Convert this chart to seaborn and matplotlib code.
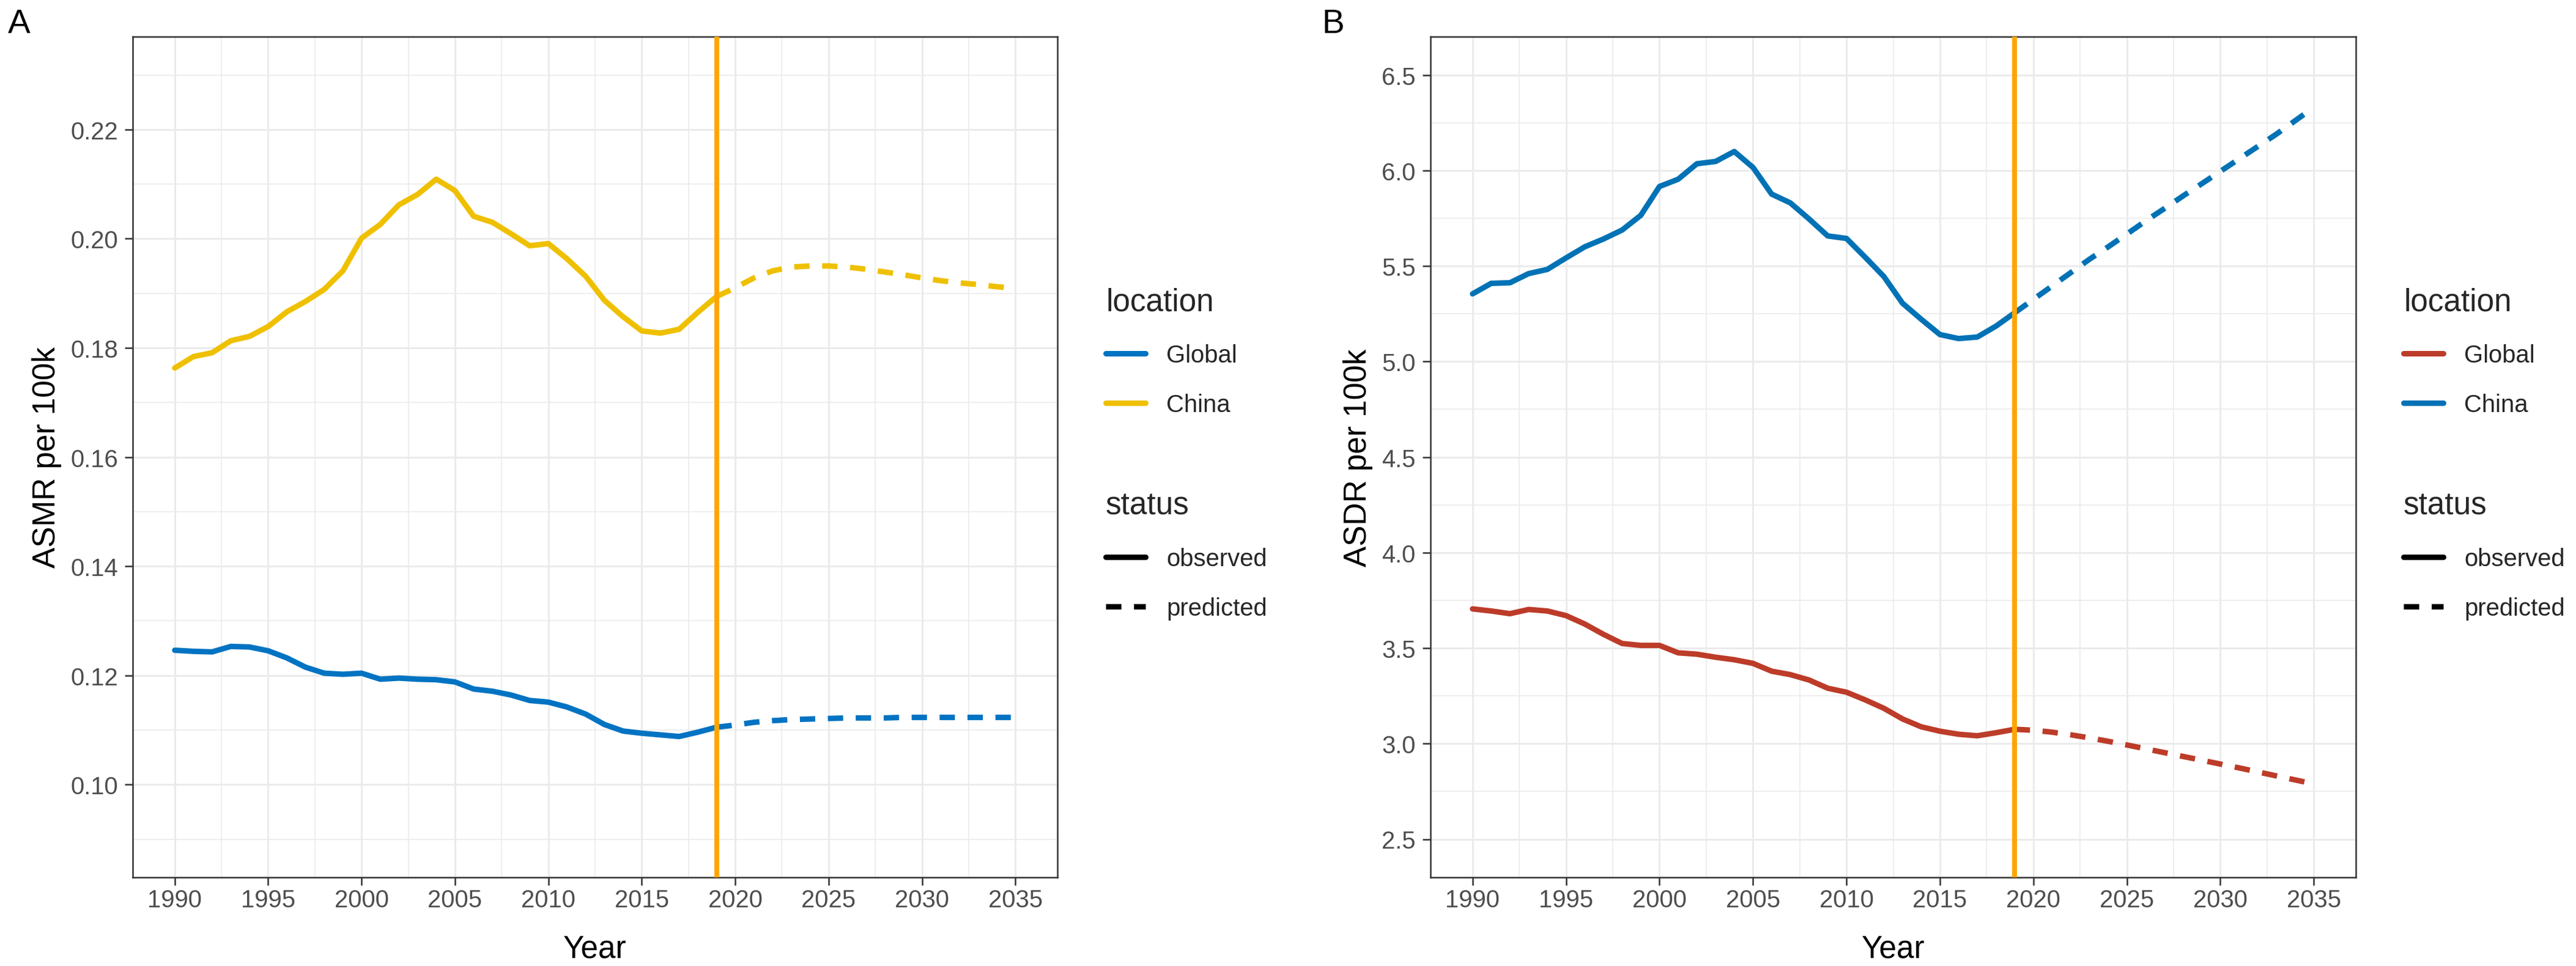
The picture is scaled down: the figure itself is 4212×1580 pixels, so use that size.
import numpy as np
import pandas as pd
import matplotlib
matplotlib.use("Agg")
import matplotlib.pyplot as plt
from matplotlib.lines import Line2D
from matplotlib.ticker import MultipleLocator, FormatStrFormatter
import seaborn as sns

# ---------------- data ----------------
years_obs = list(range(1990, 2020))
years_pred = list(range(2019, 2036))
cutoff_year = 2019
locations = ["Global", "China"]
statuses = ["observed", "predicted"]

asmr_global_obs = [0.1246, 0.1244, 0.1243, 0.1253, 0.1252, 0.1245, 0.1232, 0.1215, 0.1204, 0.1202,
                   0.1204, 0.1193, 0.1195, 0.1193, 0.1192, 0.1188, 0.1175, 0.1171, 0.1164, 0.1154,
                   0.1151, 0.1142, 0.1129, 0.1110, 0.1098, 0.1094, 0.1091, 0.1088, 0.1096, 0.1105]
asmr_global_pred = [0.1105, 0.1109, 0.1114, 0.1117, 0.1119, 0.1120, 0.1121, 0.1122, 0.1122,
                    0.1122, 0.1123, 0.1123, 0.1123, 0.1123, 0.1123, 0.1123, 0.1123]
asmr_china_obs = [0.1763, 0.1784, 0.1791, 0.1813, 0.1821, 0.1839, 0.1866, 0.1885, 0.1907, 0.1941,
                  0.2001, 0.2026, 0.2062, 0.2081, 0.2109, 0.2088, 0.2041, 0.2030, 0.2009, 0.1987,
                  0.1991, 0.1963, 0.1931, 0.1887, 0.1857, 0.1831, 0.1827, 0.1834, 0.1865, 0.1894]
asmr_china_pred = [0.1894, 0.1910, 0.1928, 0.1941, 0.1948, 0.1950, 0.1950, 0.1948, 0.1944,
                   0.1939, 0.1934, 0.1928, 0.1923, 0.1919, 0.1916, 0.1912, 0.1909]

asdr_global_obs = [3.705, 3.694, 3.680, 3.702, 3.694, 3.670, 3.626, 3.572, 3.524, 3.514,
                   3.514, 3.475, 3.468, 3.452, 3.439, 3.420, 3.379, 3.361, 3.333, 3.290,
                   3.269, 3.229, 3.185, 3.129, 3.088, 3.065, 3.049, 3.041, 3.057, 3.075]
asdr_global_pred = [3.075, 3.070, 3.060, 3.046, 3.030, 3.012, 2.993, 2.973, 2.953,
                    2.933, 2.913, 2.893, 2.873, 2.852, 2.831, 2.810, 2.789]
asdr_china_obs = [5.354, 5.409, 5.412, 5.460, 5.482, 5.542, 5.600, 5.641, 5.688, 5.765,
                  5.916, 5.954, 6.035, 6.047, 6.099, 6.016, 5.876, 5.830, 5.746, 5.657,
                  5.644, 5.546, 5.445, 5.305, 5.221, 5.141, 5.120, 5.128, 5.185, 5.255]
asdr_china_pred = [5.255, 5.325, 5.395, 5.465, 5.535, 5.600, 5.667, 5.735, 5.800,
                   5.866, 5.930, 5.995, 6.060, 6.125, 6.190, 6.260, 6.330]

# ---------------- style ----------------
sns.set_theme(style="white")
plt.rcParams["font.family"] = ["Liberation Sans", "DejaVu Sans"]

W, H = 4212, 1581
DPI = 300
LW = 2.15
DASH = (2.8, 2.3)
TICK_FS = 9.6
TITLE_FS = 12.3
GRID = "#EBEBEB"
DARK = "#333333"


def make_df(g_obs, g_pred, c_obs, c_pred):
    frames = []
    for loc, obs, pred in (("Global", g_obs, g_pred), ("China", c_obs, c_pred)):
        frames.append(pd.DataFrame({"year": years_obs, "value": obs,
                                    "location": loc, "status": "observed"}))
        frames.append(pd.DataFrame({"year": years_pred, "value": pred,
                                    "location": loc, "status": "predicted"}))
    return pd.concat(frames, ignore_index=True)


def px_x(p):
    return p / W


def px_y(p):
    return 1 - p / H


fig = plt.figure(figsize=(W / DPI, H / DPI), dpi=DPI)

panels = [
    dict(df=make_df(asmr_global_obs, asmr_global_pred, asmr_china_obs, asmr_china_pred),
         pal={"Global": "#0073C2", "China": "#EFC000"}, ylabel="ASMR per 100k",
         ylim=(0.083, 0.237), major=0.02, minor=0.01, fmt="%.2f",
         left=217, right=1729, label="A", label_x=13, leg_x=1808, ylab_right=101),
    dict(df=make_df(asdr_global_obs, asdr_global_pred, asdr_china_obs, asdr_china_pred),
         pal={"Global": "#BC3C29", "China": "#0072B5"}, ylabel="ASDR per 100k",
         ylim=(2.3, 6.7), major=0.5, minor=0.25, fmt="%.1f",
         left=2339, right=3852, label="B", label_x=2162, leg_x=3930, ylab_right=2245),
]

top_px, bottom_px = 61, 1436

for p in panels:
    ax = fig.add_axes([px_x(p["left"]), px_y(bottom_px),
                       (p["right"] - p["left"]) / W, (bottom_px - top_px) / H])
    sns.lineplot(data=p["df"], x="year", y="value", hue="location", style="status",
                 hue_order=locations, style_order=statuses, palette=p["pal"],
                 dashes={"observed": "", "predicted": DASH}, linewidth=LW,
                 errorbar=None, legend=False, ax=ax)
    ax.axvline(cutoff_year, color="#FFA500", lw=1.9, zorder=3)

    ax.set_xlim(1987.75, 2037.25)
    ax.set_ylim(*p["ylim"])
    ax.xaxis.set_major_locator(MultipleLocator(5))
    ax.xaxis.set_minor_locator(MultipleLocator(2.5))
    ax.yaxis.set_major_locator(MultipleLocator(p["major"]))
    ax.yaxis.set_minor_locator(MultipleLocator(p["minor"]))
    ax.yaxis.set_major_formatter(FormatStrFormatter(p["fmt"]))

    ax.set_axisbelow(True)
    ax.grid(which="major", color=GRID, lw=0.7)
    ax.grid(which="minor", color=GRID, lw=0.4)
    for s in ax.spines.values():
        s.set_color(DARK)
        s.set_linewidth(0.6)
    ax.tick_params(axis="both", which="major", length=3.2, width=0.6, color=DARK,
                   labelsize=TICK_FS, labelcolor="#4D4D4D")
    ax.tick_params(axis="x", which="major", pad=1.2)
    ax.tick_params(axis="y", which="major", pad=2.6)
    ax.tick_params(which="minor", length=0)
    ax.tick_params(left=True, bottom=True)

    ax.set_xlabel("Year", fontsize=TITLE_FS, color="black")
    ax.set_ylabel(p["ylabel"], fontsize=TITLE_FS, color="black")
    ax.xaxis.label.set_va("baseline")
    ax.xaxis.set_label_coords(0.5, -(1567 - bottom_px) / (bottom_px - top_px))
    ax.yaxis.set_label_coords((p["ylab_right"] - p["left"]) / (p["right"] - p["left"]), 0.5)

    fig.text(px_x(p["label_x"]), px_y(54), p["label"], fontsize=13.2, color="black",
             ha="left", va="baseline")

    # legends (ggplot-like)
    loc_handles = [Line2D([], [], color=p["pal"][l], lw=LW) for l in locations]
    st_handles = [Line2D([], [], color="black", lw=LW),
                  Line2D([], [], color="black", lw=LW, dashes=DASH)]
    common = dict(loc="upper left", frameon=False, borderpad=0, borderaxespad=0,
                  handlelength=1.63, handletextpad=0.85, labelspacing=1.07,
                  fontsize=TICK_FS, title_fontsize=TITLE_FS, alignment="left",
                  bbox_transform=fig.transFigure)
    fig.legend(loc_handles, locations, title="location",
               bbox_to_anchor=(px_x(p["leg_x"]), px_y(471)), **common)
    fig.legend(st_handles, statuses, title="status",
               bbox_to_anchor=(px_x(p["leg_x"]), px_y(804)), **common)

fig.savefig("out.png", dpi=DPI)
